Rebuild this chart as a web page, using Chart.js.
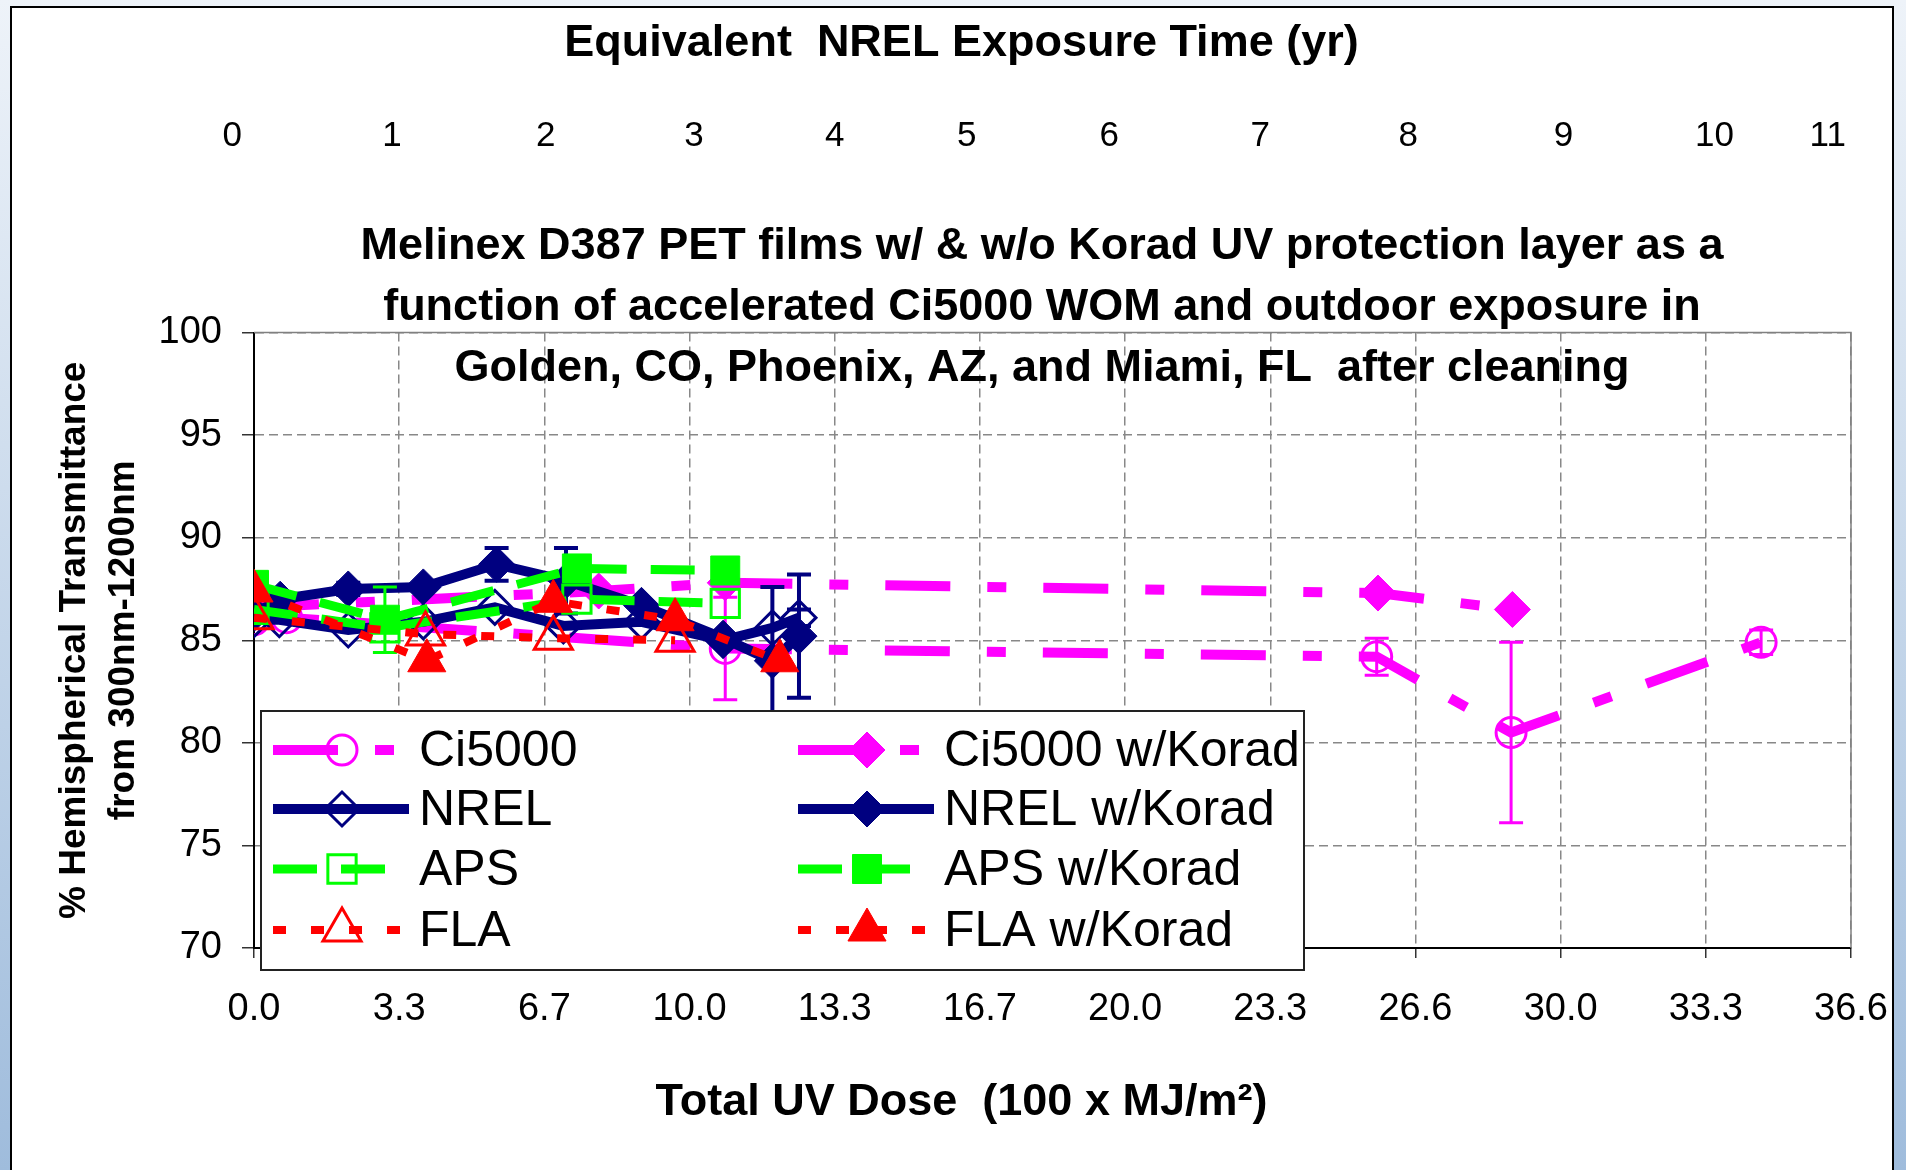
<!DOCTYPE html>
<html>
<head>
<meta charset="utf-8">
<script src="https://cdn.jsdelivr.net/npm/chart.js@4.4.1/dist/chart.umd.min.js"></script>
<style>
  html, body { margin: 0; padding: 0; }
  body { width: 1906px; height: 1170px; overflow: hidden; position: relative;
         background: linear-gradient(to bottom, #eef3f9, #9fbcdc); }
  #frame { position: absolute; left: 10px; top: 6px; width: 1880px; height: 1170px;
           background: #fff; border: 2px solid #000; border-bottom: none; }
  #chart { position: absolute; left: 0; top: 0; }
</style>
</head>
<body>
<div id="frame"><canvas id="chart" width="1880" height="1162"></canvas></div>
<script>
// x = total UV dose (100 x MJ/m2), y = % hemispherical transmittance, err = +/- error bar
var ci5000X = [0, 0.75, 10.8, 25.73, 28.81, 34.54];
var ci5000Y = [86.0, 86.1, 84.6, 84.2, 80.5, 84.9];
var ci5000Err = [0, 0, 2.5, 0.9, 4.4, 0.6];

var ci5000KoradX = [0, 7.9, 10.8, 25.76, 28.84];
var ci5000KoradY = [86.6, 87.4, 87.8, 87.3, 86.5];

var nrelX = [0, 0.58, 2.16, 3.88, 5.52, 7.09, 8.88, 10.75, 11.88, 12.49];
var nrelY = [86.0, 86.0, 85.5, 85.9, 86.6, 85.7, 85.9, 85.0, 85.6, 86.1];
var nrelErr = [0, 0, 0, 0, 0, 0, 0, 0, 0, 0.4];

var nrelKoradX = [0, 0.6, 2.16, 3.88, 5.56, 7.15, 8.88, 10.75, 11.88, 12.49];
var nrelKoradY = [86.3, 87.0, 87.5, 87.6, 88.7, 87.9, 86.7, 85.1, 84.0, 85.2];
var nrelKoradErr = [0, 0, 0.3, 0, 0.8, 1.6, 0, 0, 3.6, 3.0];

var apsX = [0, 3.0, 7.4, 10.8];
var apsY = [86.5, 85.6, 87.0, 86.8];

var apsKoradX = [0, 3.0, 7.4, 10.8];
var apsKoradY = [87.7, 86.0, 88.5, 88.4];
var apsKoradErr = [0, 1.6, 0, 0];

var flaX = [0, 3.93, 6.86, 9.65];
var flaY = [86.1, 85.3, 85.1, 85.0];

var flaKoradX = [0, 3.96, 6.86, 9.65, 12.05];
var flaKoradY = [87.4, 84.0, 86.9, 86.0, 84.0];

var doseTickLabels = ['0.0', '3.3', '6.7', '10.0', '13.3', '16.7', '20.0', '23.3', '26.6', '30.0', '33.3', '36.6'];
var yearTickLabels = ['0', '1', '2', '3', '4', '5', '6', '7', '8', '9', '10', '11'];
// where each year label sits on the top scale (hand placed in the original)
var yearLabelAt = [-0.15, 0.95, 2.01, 3.03, 4.0, 4.91, 5.89, 6.93, 7.95, 9.02, 10.06, 10.84];
var DOSE_MAX = 36.6;

var plotTitle = [
  'Melinex D387 PET films w/ & w/o Korad UV protection layer as a',
  'function of accelerated Ci5000 WOM and outdoor exposure in',
  'Golden, CO, Phoenix, AZ, and Miami, FL  after cleaning'
];

Chart.defaults.font.family = "'Liberation Sans', Arial, Helvetica, sans-serif";
Chart.defaults.color = '#000';

function pts(xs, ys) {
  return xs.map(function (x, i) { return { x: x, y: ys[i] }; });
}

function series(label, xs, ys, errs, color, lineWidth, dash, style, radius, filled, order) {
  return {
    label: label,
    data: pts(xs, ys),
    errors: errs,
    borderColor: color,
    backgroundColor: color,
    borderWidth: lineWidth,
    borderDash: dash,
    tension: 0,
    fill: false,
    pointStyle: style,
    pointRadius: radius,
    pointHoverRadius: radius,
    pointBorderWidth: filled ? 1 : 3,
    pointBackgroundColor: filled ? color : 'rgba(0,0,0,0)',
    pointBorderColor: color,
    order: order
  };
}

var MAGENTA = '#ff00ff', NAVY = '#000080', GREEN = '#00ff00', RED = '#ff0000';
var magDash = [65, 37, 19, 37], greenDash = [44, 24], redDash = [13, 25];

var datasets = [
  series('Ci5000', ci5000X, ci5000Y, ci5000Err, MAGENTA, 10, magDash, 'circle', 15, false, 8),
  series('Ci5000 w/Korad', ci5000KoradX, ci5000KoradY, null, MAGENTA, 10, magDash, 'rectRot', 18, true, 7),
  series('NREL', nrelX, nrelY, nrelErr, NAVY, 10, [], 'rectRot', 17, false, 6),
  series('NREL w/Korad', nrelKoradX, nrelKoradY, nrelKoradErr, NAVY, 10, [], 'rectRot', 18, true, 5),
  series('APS', apsX, apsY, null, GREEN, 9, greenDash, 'rect', 20, false, 4),
  series('APS w/Korad', apsKoradX, apsKoradY, apsKoradErr, GREEN, 9, greenDash, 'rect', 20.5, true, 3),
  series('FLA', flaX, flaY, null, RED, 8, redDash, 'triangle', 22, false, 2),
  series('FLA w/Korad', flaKoradX, flaKoradY, null, RED, 8, redDash, 'triangle', 22, true, 1)
];

// vertical error bars with caps, drawn right after each series
var errorBars = {
  id: 'errorBars',
  afterDatasetDraw: function (chart, args) {
    var ds = chart.data.datasets[args.index];
    if (!ds.errors) return;
    var ctx = chart.ctx, sx = chart.scales.x, sy = chart.scales.y;
    ctx.save();
    ctx.setLineDash([]);
    ctx.strokeStyle = ds.borderColor;
    ctx.lineWidth = ds.borderColor === NAVY ? 4 : 3;
    ds.data.forEach(function (p, i) {
      var e = ds.errors[i];
      if (!e) return;
      var px = sx.getPixelForValue(p.x);
      var top = sy.getPixelForValue(p.y + e), bot = sy.getPixelForValue(p.y - e);
      ctx.beginPath();
      ctx.moveTo(px, top); ctx.lineTo(px, bot);
      ctx.moveTo(px - 12, top); ctx.lineTo(px + 12, top);
      ctx.moveTo(px - 12, bot); ctx.lineTo(px + 12, bot);
      ctx.stroke();
    });
    ctx.restore();
  }
};

// plot frame (top/right), in-plot title and boxed legend
var extras = {
  id: 'extras',
  beforeDatasetsDraw: function (chart) {
    var a = chart.chartArea, ctx = chart.ctx;
    ctx.save();
    ctx.strokeStyle = '#808080';
    ctx.lineWidth = 1.5;
    ctx.beginPath();
    ctx.moveTo(a.left, a.top); ctx.lineTo(a.right, a.top); ctx.lineTo(a.right, a.bottom);
    ctx.stroke();
    ctx.restore();
  },
  afterDraw: function (chart) {
    var ctx = chart.ctx;
    ctx.save();
    ctx.fillStyle = '#000';
    ctx.font = "bold 45px 'Liberation Sans', Arial, sans-serif";
    ctx.textAlign = 'center';
    ctx.textBaseline = 'middle';
    plotTitle.forEach(function (line, i) {
      ctx.fillText(line, 1030, 239 + i * 61);
    });

    // legend box
    var L = 249, T = 703, W = 1043, H = 259;
    ctx.fillStyle = '#fff';
    ctx.fillRect(L, T, W, H);
    ctx.strokeStyle = '#222';
    ctx.lineWidth = 2;
    ctx.strokeRect(L, T, W, H);
    var rowY = [742, 801, 861, 922];
    var colX = [261, 786];
    ctx.font = "50px 'Liberation Sans', Arial, sans-serif";
    ctx.textAlign = 'left';
    for (var r = 0; r < 4; r++) {
      for (var c = 0; c < 2; c++) {
        var ds = chart.data.datasets[r * 2 + c];
        var x0 = colX[c], y0 = rowY[r];
        ctx.setLineDash(ds.borderDash);
        ctx.lineWidth = ds.borderWidth;
        ctx.strokeStyle = ds.borderColor;
        ctx.lineCap = 'butt';
        ctx.beginPath();
        ctx.moveTo(x0, y0); ctx.lineTo(x0 + 136, y0);
        ctx.stroke();
        ctx.setLineDash([]);
        ctx.lineWidth = ds.pointBorderWidth;
        ctx.fillStyle = ds.pointBackgroundColor;
        ctx.strokeStyle = ds.pointBorderColor;
        Chart.helpers.drawPoint(ctx, { pointStyle: ds.pointStyle, radius: ds.pointRadius, rotation: 0, borderWidth: ds.pointBorderWidth }, x0 + 69, y0);
        ctx.fillStyle = '#000';
        ctx.fillText(ds.label, x0 + 146, y0 + 2);
      }
    }
    ctx.restore();
  }
};

var chart = new Chart(document.getElementById('chart'), {
  type: 'line',
  data: { datasets: datasets },
  plugins: [errorBars, extras],
  options: {
    responsive: false,
    animation: false,
    events: [],
    layout: { padding: { left: 60, right: 41, top: 0, bottom: 0 } },
    plugins: {
      legend: { display: false },
      tooltip: { enabled: false },
      title: {
        display: true,
        text: 'Equivalent  NREL Exposure Time (yr)',
        font: { size: 45, weight: 'bold', lineHeight: 1.2 },
        padding: { top: 9, bottom: 0 }
      },
      subtitle: {
        display: true,
        position: 'bottom',
        text: 'Total UV Dose  (100 x MJ/m\u00B2)',
        color: '#000',
        font: { size: 45, weight: 'bold', lineHeight: 1.2 },
        padding: { top: 10, bottom: 40 }
      }
    },
    scales: {
      x: {
        type: 'linear',
        position: 'bottom',
        min: 0,
        max: DOSE_MAX,
        afterBuildTicks: function (scale) {
          scale.ticks = doseTickLabels.map(function (l, i) { return { value: i * DOSE_MAX / 11 }; });
        },
        afterFit: function (scale) { scale.height = 222 - 104; },
        ticks: {
          autoSkip: false,
          maxRotation: 0,
          padding: 0,
          font: { size: 38, lineHeight: '104px' },
          callback: function (v, i) { return doseTickLabels[i]; }
        },
        grid: { color: '#888', lineWidth: 1.5, drawTicks: true, tickLength: 10, tickColor: '#333', tickWidth: 1.5, tickBorderDash: [] },
        border: { display: true, color: '#000', width: 2, dash: [9, 5] }
      },
      x2: {
        type: 'linear',
        position: 'top',
        min: 0,
        max: 11,
        afterBuildTicks: function (scale) {
          scale.ticks = yearLabelAt.map(function (v) { return { value: v }; });
        },
        afterFit: function (scale) { scale.height = 324.5 - 63; },
        ticks: {
          autoSkip: false,
          maxRotation: 0,
          padding: 0,
          font: { size: 35, lineHeight: '393px' },
          callback: function (v, i) { return yearTickLabels[i]; }
        },
        grid: { display: false, drawTicks: false },
        border: { display: false }
      },
      y: {
        min: 70,
        max: 100,
        afterFit: function (scale) { scale.width = 182; },
        ticks: { stepSize: 5, padding: 20, font: { size: 38 } },
        grid: { color: '#888', lineWidth: 1.5, drawTicks: true, tickLength: 12, tickColor: '#333', tickWidth: 1.5, tickBorderDash: [] },
        border: { display: true, color: '#000', width: 2, dash: [9, 5] },
        title: {
          display: true,
          text: ['% Hemispherical Transmittance', 'from 300nm-1200nm'],
          font: { size: 37, weight: 'bold', lineHeight: 1.32 },
          padding: { top: -21.5, bottom: 0 }
        }
      }
    }
  }
});
</script>
</body>
</html>
